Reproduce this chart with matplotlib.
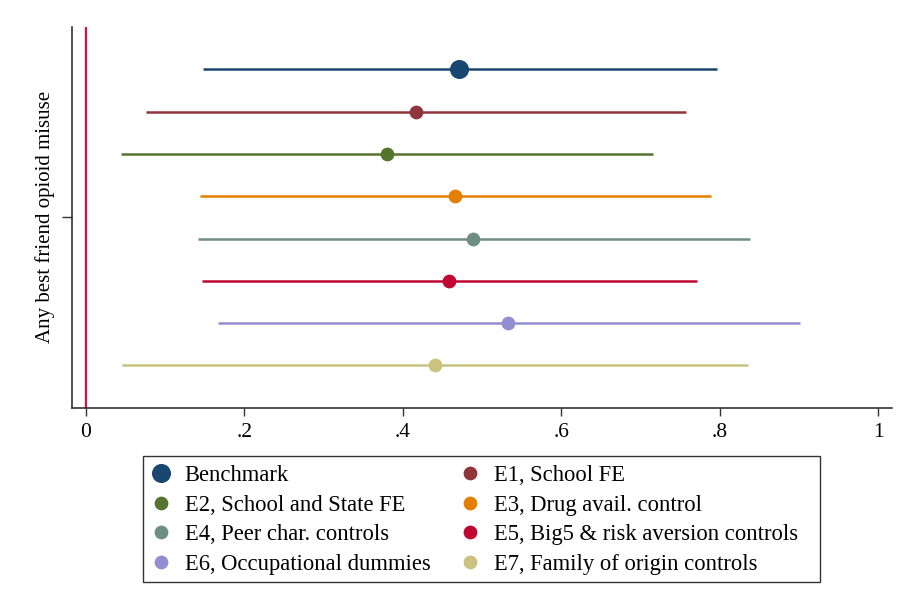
import matplotlib
matplotlib.use("Agg")
import matplotlib.pyplot as plt
from matplotlib.patches import Rectangle
import numpy as np

plt.rcParams['font.family'] = ['Liberation Serif', 'DejaVu Serif']

# coefficient estimates and 95% CI for each specification
labels = ["Benchmark", "E1, School FE", "E2, School and State FE",
          "E3, Drug avail. control", "E4, Peer char. controls",
          "E5, Big5 & risk aversion controls", "E6, Occupational dummies",
          "E7, Family of origin controls"]
coef = [0.471, 0.417, 0.380, 0.466, 0.489, 0.458, 0.533, 0.441]
ci_lo = [0.148, 0.076, 0.044, 0.144, 0.141, 0.146, 0.166, 0.046]
ci_hi = [0.796, 0.757, 0.716, 0.789, 0.838, 0.771, 0.901, 0.835]
colors = ["#1a476f", "#90353b", "#55752f", "#e37e00",
          "#6e8e84", "#c10534", "#938dd2", "#cac27e"]
ylab = "Any best friend opioid misuse"
xticks = [0, 0.2, 0.4, 0.6, 0.8, 1]
xticklabels = ["0", ".2", ".4", ".6", ".8", "1"]

fig = plt.figure(figsize=(9.02, 6.07), dpi=100)
ax = fig.add_axes([0.0798, 0.3283, 0.9088, 0.6272])

n = len(coef)
offs = np.arange(n)[::-1] - (n - 1) / 2.0   # 3.5 ... -3.5 around the single row

ax.axvline(0, color="#d4143c", lw=1.6, zorder=1)

handles = []
for i in range(n):
    ax.hlines(offs[i], ci_lo[i], ci_hi[i], color=colors[i], lw=1.8, zorder=2)
    ms = 12.7 if i == 0 else 8.9
    h, = ax.plot([coef[i]], [offs[i]], "o", color=colors[i], ms=ms,
                 mec=colors[i], label=labels[i], zorder=3)
    handles.append(h)

ax.set_xlim(-0.0177, 1.017)
ax.set_ylim(-4.5, 4.5)
ax.set_xticks(xticks)
ax.set_xticklabels(xticklabels, fontsize=15.5)
ax.set_yticks([0])
ax.set_yticklabels([ylab], rotation=90, va="center", fontsize=15)
ax.tick_params(axis="x", length=6, width=1, color="#333333", pad=5)
ax.tick_params(axis="y", length=7, width=1, color="#333333", pad=5)

for s in ["top", "right"]:
    ax.spines[s].set_visible(False)
for s in ["left", "bottom"]:
    ax.spines[s].set_linewidth(1.1)
    ax.spines[s].set_color("#222222")

# legend filled row by row: left column even entries, right column odd
order = [0, 2, 4, 6, 1, 3, 5, 7]
leg = fig.legend([handles[k] for k in order], [labels[k] for k in order],
                 ncol=2, loc="upper left", bbox_to_anchor=(0.1585, 0.2470),
                 fontsize=16.3, frameon=False,
                 handlelength=0.9, handletextpad=0.6, columnspacing=1.29,
                 labelspacing=0.38, borderpad=0.35, borderaxespad=0)

# box around the legend, wider on the right like the Stata output
fig.patches.append(Rectangle((143 / 902, 1 - 582 / 607), 677 / 902, 126 / 607,
                             transform=fig.transFigure, fill=False,
                             ec="#333333", lw=1.0))

fig.savefig("out.png", dpi=100)
